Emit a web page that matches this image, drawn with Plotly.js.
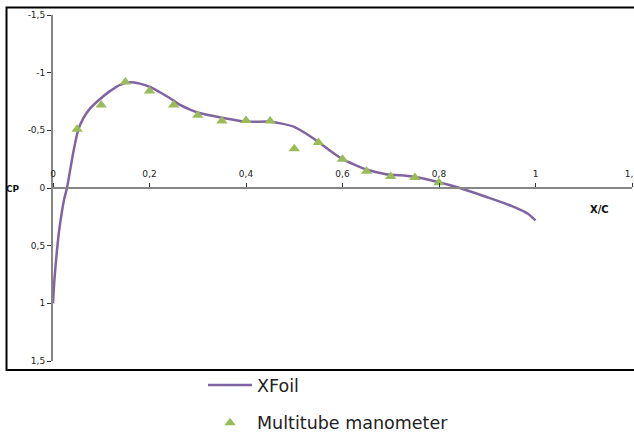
<!DOCTYPE html>
<html>
<head>
<meta charset="utf-8">
<script src="https://cdn.plot.ly/plotly-3.0.1.min.js"></script>
<style>html,body{margin:0;padding:0;background:#fff;}#chart{width:634px;height:433px;}</style>
</head>
<body>
<div id="chart"></div>
<script>
// XFoil pressure distribution
const xfoilX = [0, 0.003, 0.008, 0.013, 0.023, 0.029, 0.037, 0.043, 0.052, 0.063, 0.077, 0.097, 0.118, 0.139, 0.159, 0.18, 0.201, 0.2215, 0.242, 0.263, 0.284, 0.30, 0.35, 0.40, 0.45, 0.477, 0.50, 0.525, 0.553, 0.575, 0.60, 0.65, 0.69, 0.745, 0.80, 0.843, 0.90, 0.95, 0.985, 1.0];
const xfoilCp = [1.0, 0.79, 0.55, 0.36, 0.10, 0.0, -0.19, -0.33, -0.50, -0.605, -0.69, -0.77, -0.84, -0.895, -0.917, -0.905, -0.877, -0.83, -0.78, -0.72, -0.68, -0.655, -0.61, -0.575, -0.575, -0.556, -0.53, -0.47, -0.39, -0.32, -0.25, -0.16, -0.12, -0.10, -0.05, 0.0, 0.08, 0.155, 0.225, 0.28];
// Multitube manometer measurements
const manoX = [0.05, 0.10, 0.15, 0.20, 0.25, 0.30, 0.35, 0.40, 0.45, 0.50, 0.55, 0.60, 0.65, 0.70, 0.75, 0.80];
const manoCp = [-0.51, -0.72, -0.92, -0.84, -0.72, -0.63, -0.58, -0.585, -0.58, -0.34, -0.395, -0.25, -0.145, -0.10, -0.09, -0.045];
// Tick labels
const xTickVals = [0, 0.2, 0.4, 0.6, 0.8, 1, 1.2];
const xTickText = ['0', '0,2', '0,4', '0,6', '0,8', '1', '1,2'];
const yTickVals = [-1.5, -1, -0.5, 0, 0.5, 1, 1.5];
const yTickText = ['-1,5', '-1', '-0,5', '0', '0,5', '1', '1,5'];

const axisGray = '#868686';
const traces = [
  {x: xfoilX, y: xfoilCp, name: 'XFoil', mode: 'lines', type: 'scatter',
   line: {color: '#8064A2', width: 2.5, shape: 'spline', smoothing: 0.6}, legendgroup: 'a'},
  {x: manoX, y: manoCp, name: 'Multitube manometer', mode: 'markers', type: 'scatter',
   marker: {symbol: 'triangle-up', size: 10, color: '#9BBB59'}, legendgroup: 'b'}
];
const layout = {
  width: 634, height: 433,
  margin: {l: 53, r: 2, t: 15, b: 72, autoexpand: false},
  paper_bgcolor: '#fff', plot_bgcolor: '#fff',
  showlegend: true,
  legend: {xref: 'container', yref: 'container', x: 203/634, y: (433-367)/433, xanchor: 'left', yanchor: 'top',
           tracegroupgap: 12, itemwidth: 44,
           font: {family: 'DejaVu Sans', size: 17.5, color: '#222'}, bgcolor: 'rgba(0,0,0,0)'},
  xaxis: {range: [0, 1.2], anchor: 'free', position: 0.5, side: 'top',
          tickvals: xTickVals, ticktext: xTickText, ticks: 'outside', ticklen: 4, tickcolor: '#333',
          showline: true, linecolor: axisGray, linewidth: 2, showgrid: false, zeroline: false, ticklabelstandoff: 2,
          ticklabeloverflow: 'allow',
          tickfont: {family: 'DejaVu Sans', size: 9, color: '#222'}, automargin: false},
  yaxis: {range: [1.5, -1.5], tickvals: yTickVals, ticktext: yTickText, ticks: 'outside', ticklen: 4, tickcolor: '#333',
          showline: true, linecolor: axisGray, linewidth: 2, showgrid: false, zeroline: false,
          tickfont: {family: 'DejaVu Sans', size: 9, color: '#222'}, automargin: false},
  shapes: [{type: 'rect', xref: 'paper', yref: 'paper', x0: -0.0803, x1: 1.05, y0: -0.026, y1: 1.0217,
            line: {color: '#000', width: 2}}],
  annotations: [
    {text: '<b>X/C</b>', xref: 'paper', yref: 'paper', x: (599-53)/579, y: (361-209)/346, showarrow: false,
     xanchor: 'center', yanchor: 'middle', font: {family: 'DejaVu Sans', size: 10, color: '#111'}},
    {text: '<b>CP</b>', xref: 'paper', yref: 'paper', x: (13-53)/579, y: (361-189)/346, showarrow: false,
     xanchor: 'center', yanchor: 'middle', font: {family: 'DejaVu Sans', size: 9, color: '#111'}}
  ]
};
Plotly.newPlot('chart', traces, layout, {displayModeBar: false, staticPlot: true});
</script>
</body>
</html>
